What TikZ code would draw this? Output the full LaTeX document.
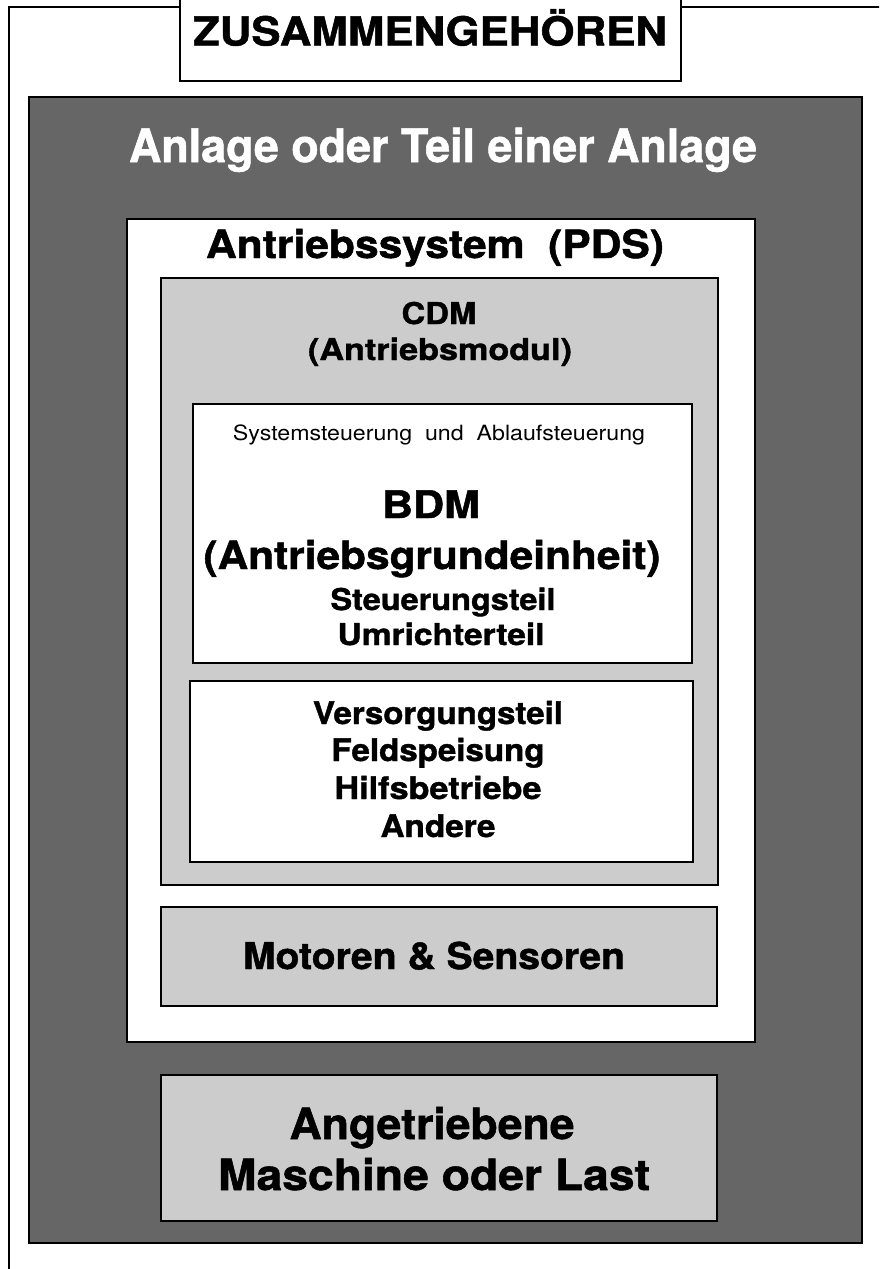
\documentclass[tikz,border=0pt]{standalone}
\usepackage{fontspec}
\setmainfont{TeX Gyre Heros}[BoldFeatures={FakeBold=1.2}]
\usepackage{graphicx}
\definecolor{darkbg}{HTML}{666666}
\definecolor{lightbg}{HTML}{CCCCCC}
\newcommand{\tline}[3]{\resizebox{#1pt}{\height}{\fontsize{#2}{#2}\selectfont #3}}
\begin{document}
\begin{tikzpicture}[x=1pt,y=-1pt,
  frame/.style={draw=black,line width=2pt},
  txt/.style={anchor=base,inner sep=0pt,font=\bfseries},
  wtxt/.style={txt,text=white},
  ntxt/.style={anchor=base,inner sep=0pt}]
\useasboundingbox (0,0) rectangle (879,1269);
\clip (0,0) rectangle (879,1269);
\fill[white] (0,0) rectangle (879,1269);
% outer open frame
\draw[line width=2pt] (8.5,1290) -- (8.5,6.5) -- (900,6.5);
% title box
\draw[frame,fill=white] (180,-10) rectangle (681,81);
\node[txt] (title) at (430,45.5) {\tline{474}{40}{\bfseries ZUSAMMENGEHÖREN}};
% plant
\draw[frame,fill=darkbg] (29,97) rectangle (862,1243);
\node[wtxt] (plant) at (443,162) {\tline{628}{46}{\bfseries Anlage oder Teil einer Anlage}};
% PDS
\draw[frame,fill=white] (127,219) rectangle (755,1042);
\node[txt] (pds) at (435,258) {\tline{458}{39}{\bfseries Antriebssystem\ \ (PDS)}};
% CDM
\draw[frame,fill=lightbg] (161,278) rectangle (718,885);
\node[txt] (cdm1) at (439,324) {\tline{75}{30}{\bfseries CDM}};
\node[txt] (cdm2) at (440,360) {\tline{264}{30}{\bfseries (Antriebsmodul)}};
% BDM
\draw[frame,fill=white] (193,404) rectangle (692,663);
\node[ntxt] (sys) at (439,440) {\tline{412}{21}{Systemsteuerung\ \ und\ \ Ablaufsteuerung}};
\node[txt] (bdm1) at (431,518) {\tline{98}{38}{\bfseries BDM}};
\node[txt] (bdm2) at (432,569) {\tline{457}{39}{\bfseries (Antriebsgrundeinheit)}};
\node[txt] (bdm3) at (443,610) {\tline{225}{30}{\bfseries Steuerungsteil}};
\node[txt] (bdm4) at (441,645) {\tline{207}{30}{\bfseries Umrichterteil}};
% Versorgung
\draw[frame,fill=white] (190,681) rectangle (693,862);
\node[txt] (v1) at (438,724) {\tline{250}{31}{\bfseries Versorgungsteil}};
\node[txt] (v2) at (438,761) {\tline{213}{31}{\bfseries Feldspeisung}};
\node[txt] (v3) at (438,799) {\tline{207}{31}{\bfseries Hilfsbetriebe}};
\node[txt] (v4) at (438,837) {\tline{115}{31}{\bfseries Andere}};
% Motoren
\draw[frame,fill=lightbg] (161,907) rectangle (717,1006);
\node[txt] (mot) at (434,969) {\tline{382}{37}{\bfseries Motoren \& Sensoren}};
% Last
\draw[frame,fill=lightbg] (161,1075) rectangle (717,1221);
\node[txt] (last1) at (432,1139) {\tline{285}{43}{\bfseries Angetriebene}};
\node[txt] (last2) at (434,1190) {\tline{432}{43}{\bfseries Maschine oder Last}};
\end{tikzpicture}
\end{document}
